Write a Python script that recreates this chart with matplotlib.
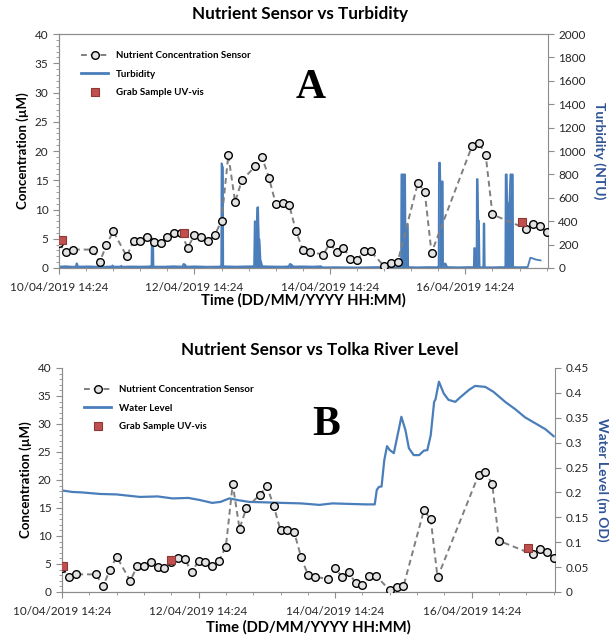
import matplotlib
matplotlib.use("Agg")
import matplotlib.pyplot as plt
from matplotlib.ticker import MultipleLocator, FuncFormatter
from matplotlib.lines import Line2D

plt.rcParams['font.family'] = ['Lato', 'DejaVu Sans']

# time axis in days since 10/04/2019 14:24
tick_days = [0, 2, 4, 6]
tick_labels = ["10/04/2019 14:24", "12/04/2019 14:24", "14/04/2019 14:24", "16/04/2019 14:24"]

# nutrient sensor (uM)
sensor_day = [0.0, 0.1, 0.2, 0.5, 0.6, 0.7, 0.8, 1.0, 1.1, 1.2, 1.3, 1.4, 1.5, 1.6, 1.7, 1.8, 1.9,
              2.0, 2.1, 2.2, 2.3, 2.4, 2.5, 2.6, 2.7, 2.9, 3.0, 3.1, 3.2, 3.3, 3.4, 3.5, 3.6, 3.7,
              3.9, 4.0, 4.1, 4.2, 4.3, 4.4, 4.5, 4.6, 4.8, 4.9, 5.0, 5.3, 5.4, 5.5,
              6.1, 6.2, 6.3, 6.4, 6.9, 7.0, 7.1, 7.2]
sensor_conc = [4.2, 2.75, 3.15, 3.15, 1.0, 3.9, 6.3, 2.0, 4.6, 4.7, 5.3, 4.45, 4.2, 5.3, 6.05, 5.9, 3.5,
               5.6, 5.3, 4.7, 5.6, 8.1, 19.3, 11.3, 15.0, 17.4, 18.9, 15.4, 11.0, 11.1, 10.7, 6.3, 3.1, 2.75,
               2.3, 4.2, 2.75, 3.5, 1.6, 1.3, 2.9, 2.9, 0.3, 0.85, 1.0, 14.6, 13.0, 2.6,
               20.9, 21.4, 19.3, 9.15, 6.7, 7.6, 7.2, 6.1]

# grab samples (UV-vis)
grab_day_a = [0.04, 1.85, 6.84]
grab_conc_a = [4.75, 5.9, 7.8]
grab_day_b = [0.02, 1.59, 6.83]
grab_conc_b = [4.7, 5.8, 7.8]

# turbidity (NTU)
turb_day = [0.00, 0.10, 0.20, 0.25,
            0.26, 0.27, 0.28,
            0.45, 0.60, 0.78,
            0.79, 0.80,
            0.91, 0.92, 0.93,
            1.05, 1.20, 1.36,
            1.365, 1.37, 1.39, 1.395,
            1.55, 1.70, 1.82,
            1.84, 1.86, 1.88,
            2.00, 2.20, 2.39,
            2.395, 2.40, 2.42, 2.425,
            2.60, 2.75, 2.88,
            2.89, 2.90, 2.92, 2.925, 2.94, 2.95, 2.96, 2.975, 2.99, 3.00,
            3.15, 3.30, 3.39,
            3.41, 3.43, 3.46,
            3.60, 3.75, 3.87,
            3.89, 4.10, 4.40, 4.70, 4.95, 5.04,
            5.05, 5.055, 5.11, 5.115, 5.15, 5.155,
            5.30, 5.45, 5.60,
            5.605, 5.61, 5.625, 5.63, 5.665, 5.67,
            5.70, 5.71, 5.73,
            5.90, 6.05, 6.12,
            6.125, 6.13, 6.14, 6.145, 6.165, 6.17, 6.18, 6.19, 6.20, 6.21, 6.265, 6.27, 6.28, 6.285,
            6.40, 6.52, 6.585,
            6.59, 6.595, 6.61, 6.615, 6.64, 6.645, 6.665, 6.67, 6.70, 6.705,
            6.80, 6.92,
            6.96, 6.98, 7.04, 7.11]
turb_ntu = [12, 15, 11, 13,
            40, 30, 12,
            14, 10, 13,
            22, 12,
            12, 20, 11,
            13, 12, 14,
            12, 255, 250, 12,
            12, 15, 12,
            35, 30, 12,
            14, 11, 13,
            15, 895, 860, 15,
            12, 14, 15,
            400, 395, 390, 515, 520, 240, 245, 70, 40, 15,
            13, 12, 14,
            35, 30, 13,
            14, 12, 15,
            6, 7, 5, 8, 6, 7,
            7, 800, 800, 370, 370, 8,
            6, 8, 7,
            7, 900, 900, 740, 740, 8,
            40, 35, 8,
            6, 8, 7,
            7, 170, 170, 7, 7, 760, 760, 405, 405, 7, 7, 380, 380, 7,
            6, 8, 7,
            7, 800, 800, 580, 480, 480, 800, 800, 800, 8,
            7, 8,
            88, 85, 72, 65]

# Tolka river water level (m OD)
wl_day = [0.00, 0.15, 0.30, 0.55, 0.80, 1.14, 1.40, 1.62, 1.85, 2.01, 2.20, 2.32, 2.45, 2.60, 2.74,
          3.00, 3.23, 3.50, 3.77, 3.96, 4.20, 4.45, 4.58, 4.61, 4.64, 4.68, 4.72, 4.76, 4.80, 4.86,
          4.91, 4.97, 5.03, 5.08, 5.15, 5.23, 5.30, 5.35, 5.40, 5.45, 5.47, 5.52, 5.59, 5.66, 5.76,
          5.84, 5.96, 6.05, 6.20, 6.32, 6.49, 6.64, 6.78, 6.93, 7.08, 7.20]
wl_val = [0.204, 0.201, 0.200, 0.197, 0.196, 0.191, 0.192, 0.188, 0.189, 0.185, 0.179, 0.181, 0.188, 0.184, 0.181,
          0.180, 0.179, 0.178, 0.175, 0.178, 0.177, 0.176, 0.176, 0.205, 0.211, 0.212, 0.265, 0.293, 0.285, 0.279,
          0.312, 0.352, 0.325, 0.289, 0.275, 0.275, 0.284, 0.285, 0.315, 0.382, 0.387, 0.4225, 0.399, 0.386, 0.382,
          0.392, 0.406, 0.414, 0.412, 0.402, 0.382, 0.367, 0.351, 0.339, 0.327, 0.313]

BLUE = '#4a7ebb'
DARKBLUE = '#2f5496'
GREY = '#8c8c8c'
TXT = '#262626'


def style_axes(ax, ax2, top_spine):
    ax.set_xlim(0, 7.22)
    ax.set_ylim(0, 40)
    ax.xaxis.set_major_locator(plt.FixedLocator(tick_days))
    ax.set_xticklabels(tick_labels)
    ax.xaxis.set_minor_locator(MultipleLocator(0.4))
    ax.yaxis.set_major_locator(MultipleLocator(5))
    ax.yaxis.set_minor_locator(MultipleLocator(1))
    for a in (ax, ax2):
        for s in a.spines.values():
            s.set_color(GREY)
        a.spines['top'].set_visible(top_spine)
        a.tick_params(which='both', color=GREY, labelcolor=TXT, labelsize=8.5)
    ax.spines['right'].set_visible(False)
    ax.tick_params(which='major', length=4, direction='out')
    ax.tick_params(which='minor', length=2, direction='out')
    ax.tick_params(axis='x', pad=6)
    ax2.tick_params(which='major', length=4, direction='out')
    ax.set_zorder(ax2.get_zorder() + 1)
    ax.patch.set_visible(False)


def draw_sensor(ax, gd, gc):
    ax.plot(sensor_day, sensor_conc, ls=(0, (3, 2)), color='#7f7f7f', lw=1.4,
            marker='o', ms=5.5, mfc='#e3e3e3', mec='black', mew=1.0, zorder=3)
    ax.plot(gd, gc, ls='none', marker='s', ms=6, mfc='#c0504d', mec='#8c3836', mew=0.8, zorder=4)


def legend(ax, second, y):
    h = [Line2D([], [], ls=(0, (3, 2)), color='#7f7f7f', lw=1.4, marker='o', ms=5.5,
                mfc='#e3e3e3', mec='black', mew=1.0),
         Line2D([], [], color=BLUE, lw=2),
         Line2D([], [], ls='none', marker='s', ms=6, mfc='#c0504d', mec='#8c3836', mew=0.8)]
    ax.legend(h, ["Nutrient Concentration Sensor", second, "Grab Sample UV-vis"],
              loc='upper left', bbox_to_anchor=(0.027, y), frameon=False,
              prop={'size': 7, 'weight': 'bold'}, handlelength=2.8, labelspacing=1.0)


fig = plt.figure(figsize=(6.15, 6.36), dpi=100)

# panel A
axA = fig.add_axes([59 / 615, 1 - 268 / 636, 489 / 615, 234 / 636])
axA2 = axA.twinx()
axA2.fill_between(turb_day, turb_ntu, where=[d < 6.9 for d in turb_day], color=BLUE, lw=0)
axA2.plot(turb_day, turb_ntu, color=BLUE, lw=1.3)
axA2.set_ylim(0, 2000)
axA2.yaxis.set_major_locator(MultipleLocator(200))
draw_sensor(axA, grab_day_a, grab_conc_a)
style_axes(axA, axA2, True)
legend(axA, "Turbidity", 0.965)
axA.set_ylabel("Concentration (\u00b5M)", fontsize=9.5, fontweight='bold', color='black', labelpad=4)
axA2.set_ylabel("Turbidity (NTU)", fontsize=10, fontweight='bold', color=DARKBLUE, rotation=270, labelpad=14)
fig.text(300 / 615, 1 - 14 / 636, "Nutrient Sensor vs Turbidity", ha='center', va='center',
         fontsize=12.3, fontweight='bold')
fig.text(303 / 615, 1 - 300 / 636, "Time (DD/MM/YYYY HH:MM)", ha='center', va='center',
         fontsize=10.6, fontweight='bold')
fig.text(311 / 615, 1 - 88 / 636, "A", ha='center', va='center', fontsize=30, fontweight='bold',
         family='Liberation Serif')

# panel B
axB = fig.add_axes([62 / 615, 1 - 592 / 636, 493 / 615, 224 / 636])
axB2 = axB.twinx()
axB2.plot(wl_day, wl_val, color=BLUE, lw=1.6)
axB2.set_ylim(0, 0.45)
axB2.yaxis.set_major_locator(MultipleLocator(0.05))
axB2.yaxis.set_major_formatter(FuncFormatter(lambda v, p: '%g' % round(v, 2)))
draw_sensor(axB, grab_day_b, grab_conc_b)
style_axes(axB, axB2, False)
legend(axB, "Water Level", 0.963)
axB.set_ylabel("Concentration (\u00b5M)", fontsize=9.5, fontweight='bold', color='black', labelpad=4)
axB2.set_ylabel("Water Level (m OD)", fontsize=10, fontweight='bold', color=DARKBLUE, rotation=270, labelpad=14)
fig.text(320 / 615, 1 - 350 / 636, "Nutrient Sensor vs Tolka River Level", ha='center', va='center',
         fontsize=12.3, fontweight='bold')
fig.text(308 / 615, 1 - 627 / 636, "Time (DD/MM/YYYY HH:MM)", ha='center', va='center',
         fontsize=10.6, fontweight='bold')
fig.text(326 / 615, 1 - 425 / 636, "B", ha='center', va='center', fontsize=30, fontweight='bold',
         family='Liberation Serif')

fig.savefig("out.png", dpi=100)
